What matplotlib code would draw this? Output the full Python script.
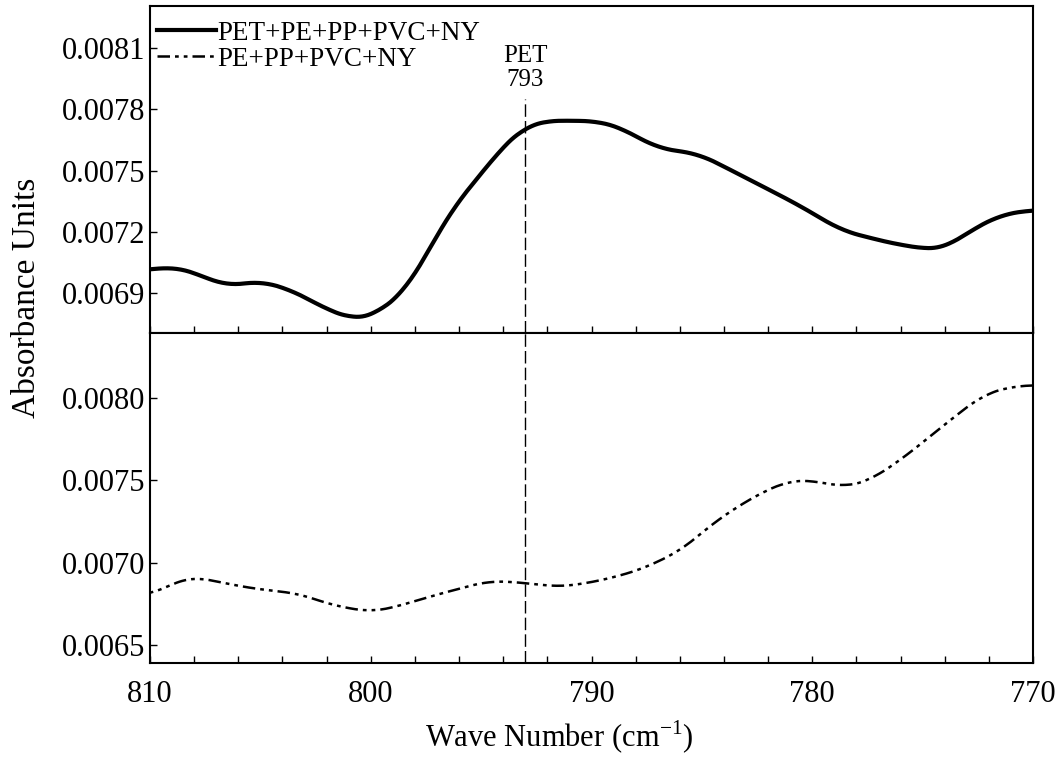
import numpy as np
import matplotlib.pyplot as plt
from matplotlib.ticker import MultipleLocator, FixedLocator

plt.rcParams['font.family'] = ['Liberation Serif', 'DejaVu Serif']

# spectrum with PET (top panel)
wn_top = [810.0, 808.9, 807.8, 806.5, 805.0, 803.5, 802.0, 800.8, 799.9, 798.4,
          797.2, 796.0, 795.0, 794.1, 793.0, 792.2, 791.0, 789.6, 788.7, 787.0,
          785.1, 782.8, 780.6, 778.7, 777.4, 776.0, 774.7, 774.0, 772.9, 771.5,
          770.0]
abs_top = [0.007013, 0.00703, 0.00699, 0.006934, 0.006959, 0.00691, 0.00682,
           0.006773, 0.006788, 0.006915, 0.007145, 0.00736, 0.00748, 0.00761,
           0.007713, 0.007742, 0.007745, 0.00774, 0.00771, 0.00761, 0.00758,
           0.007453, 0.00733, 0.007208, 0.00717, 0.007135, 0.007115, 0.00712,
           0.0072, 0.007282, 0.007307]

# spectrum without PET (bottom panel)
wn_bot = [810.0, 808.6, 808.0, 805.5, 803.2, 801.8, 800.0, 798.7, 796.9, 794.6,
          793.0, 791.4, 789.6, 787.8, 786.0, 784.2, 782.4, 781.0, 780.1, 778.5,
          777.4, 776.0, 774.7, 773.3, 772.2, 771.0, 770.0]
abs_bot = [0.006804, 0.006895, 0.006913, 0.006846, 0.00681, 0.006743, 0.0067,
           0.006737, 0.00681, 0.00689, 0.006877, 0.006852, 0.00689, 0.006956,
           0.00707, 0.00727, 0.00742, 0.0075, 0.0075, 0.00746, 0.0075, 0.007624,
           0.007763, 0.007915, 0.008024, 0.00807, 0.008079]

peak_wn = 793
x_ticks = [810, 800, 790, 780, 770]
top_yticks = [0.0069, 0.0072, 0.0075, 0.0078, 0.0081]
bot_yticks = [0.0065, 0.0070, 0.0075, 0.0080]


def smooth(x, y):
    # resample and run a short moving average so the trace looks continuous
    x = np.asarray(x)[::-1]
    y = np.asarray(y)[::-1]
    xs = np.linspace(x[0], x[-1], 600)
    ys = np.interp(xs, x, y)
    k = np.ones(25) / 25
    pad = np.pad(ys, 12, mode='edge')
    ys = np.convolve(pad, k, mode='valid')
    return xs, ys


dashdot = (0, (5, 2, 1.5, 2, 1.5, 2))

fig = plt.figure(figsize=(10.61, 7.67), dpi=100)
ax1 = fig.add_axes([0.1414, 0.5658, 0.8322, 0.4264])
ax2 = fig.add_axes([0.1414, 0.1356, 0.8322, 0.4302], sharex=ax1)

xs, ys = smooth(wn_top, abs_top)
ax1.plot(xs, ys, color='black', lw=3, label='PET+PE+PP+PVC+NY')
xs, ys = smooth(wn_bot, abs_bot)
ax2.plot(xs, ys, color='black', lw=1.8, ls=dashdot)
ax1.plot([], [], color='black', lw=1.8, ls=dashdot, label='PE+PP+PVC+NY')

ax1.set_xlim(810, 770)
ax1.set_ylim(0.006704, 0.008306)
ax2.set_ylim(0.00639, 0.008396)

ax1.plot([peak_wn, peak_wn], [0.006704, 0.00785], color='black', lw=1,
         ls=(0, (9, 3)))
ax2.axvline(peak_wn, color='black', lw=1, ls=(0, (9, 3)))
ax1.text(peak_wn, 0.008003, 'PET\n793', ha='center', va='center', fontsize=18,
         linespacing=1.1)

for ax in (ax1, ax2):
    ax.xaxis.set_major_locator(FixedLocator(x_ticks))
    ax.xaxis.set_minor_locator(MultipleLocator(2))
    ax.tick_params(which='both', direction='in', length=5, width=1,
                   labelsize=22, top=False, right=False)
    for s in ax.spines.values():
        s.set_linewidth(1.5)
ax1.yaxis.set_major_locator(FixedLocator(top_yticks))
ax2.yaxis.set_major_locator(FixedLocator(bot_yticks))
ax1.yaxis.set_major_formatter(plt.FormatStrFormatter('%.4f'))
ax2.yaxis.set_major_formatter(plt.FormatStrFormatter('%.4f'))
ax1.tick_params(labelbottom=False)
ax2.tick_params(axis='x', pad=12)

fig.text(0.527, 0.039, 'Wave Number (cm$^{\\mathregular{-1}}$)', ha='center',
         va='center', fontsize=22)
fig.text(0.025, 0.612, 'Absorbance Units', rotation=90, ha='center',
         va='center', fontsize=24)

ax1.legend(loc='upper left', bbox_to_anchor=(0.0, 0.976), frameon=False,
           fontsize=19.5, handlelength=2.2, handletextpad=0.05,
           borderaxespad=0.1, borderpad=0.15, labelspacing=0.05)

fig.savefig('out.png', dpi=100)
